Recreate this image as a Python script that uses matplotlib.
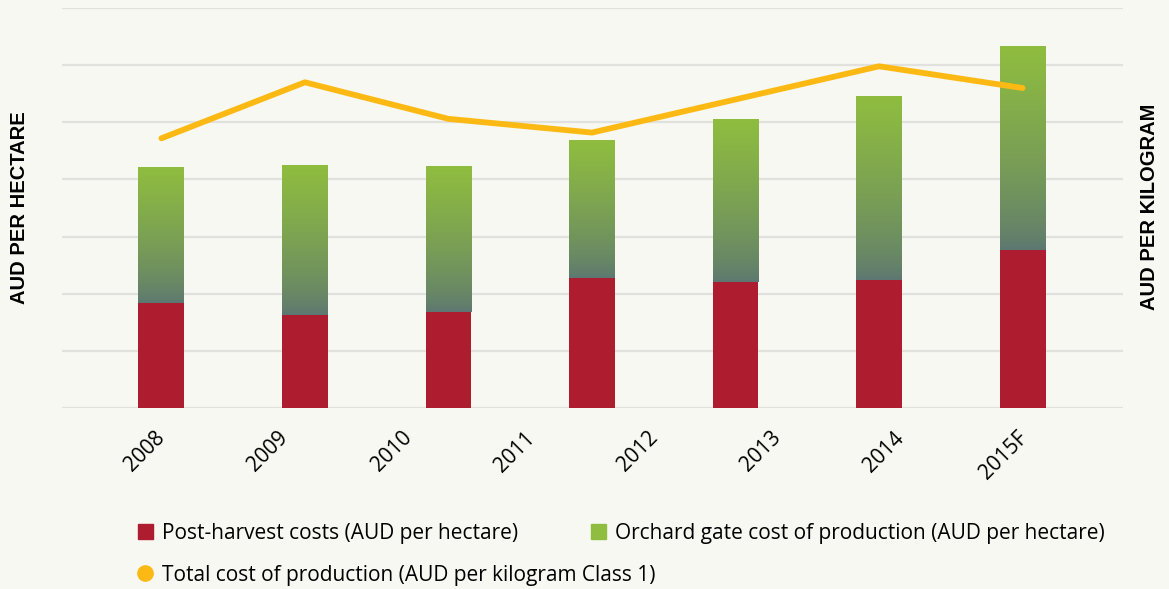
import numpy as np
import matplotlib
matplotlib.use('Agg')
import matplotlib.pyplot as plt
from matplotlib.colors import LinearSegmentedColormap
from matplotlib.patches import Patch
from matplotlib.lines import Line2D

# Datos (escala del eje izquierdo estimada: 5000 por línea de rejilla)
years = ['2008', '2009', '2010', '2011', '2012', '2013', '2014', '2015F']
post_harvest = [9190, 8140, 8400, 11380, 11030, 11200, 13830]
orchard_gate = [11900, 13040, 12690, 12070, 14260, 16100, 17850]
total_per_kg = [2.36, 2.85, 2.53, 2.41, 2.70, 2.99, 2.80]

COLORS = {
    'bg': '#F7F8F1',
    'red': '#AE1C30',
    'green_top': '#8FBD3F',
    'green_bottom': '#5C7672',
    'yellow': '#FDB913',
    'grid': '#E1E1DE',
}

plt.rcParams['font.family'] = ['Open Sans', 'DejaVu Sans']

fig = plt.figure(figsize=(11.69, 5.89), dpi=100, facecolor=COLORS['bg'])
ax = fig.add_axes([0.053, 0.3073, 0.9077, 0.6791])
ax.set_facecolor(COLORS['bg'])

x = np.arange(len(post_harvest))
width = 0.32

ax.bar(x, post_harvest, width, color=COLORS['red'], zorder=2)
green_bars = ax.bar(x, orchard_gate, width, bottom=post_harvest,
                    color='none', zorder=2)

# degradado verde -> gris azulado en la parte superior de cada barra
cmap = LinearSegmentedColormap.from_list(
    'orchard', [COLORS['green_bottom'], COLORS['green_top']])
grad = np.linspace(0, 1, 256) ** 0.7
grad = grad[::-1].reshape(-1, 1)
for p in green_bars.patches:
    x0, y0 = p.get_x(), p.get_y()
    ax.imshow(grad, extent=[x0, x0 + p.get_width(), y0, y0 + p.get_height()],
              aspect='auto', cmap=cmap, zorder=2, interpolation='bicubic')

ax.set_xlim(-0.693, 6.70)
ax.set_ylim(0, 35000)
ax.set_yticks(np.arange(0, 35001, 5000))
ax.yaxis.grid(True, color=COLORS['grid'], linewidth=1.6, zorder=0)
ax.set_axisbelow(True)
ax.tick_params(axis='y', length=0, labelleft=False)
for s in ax.spines.values():
    s.set_visible(False)

ax.set_xticks(np.linspace(0.055, 6.065, len(years)))
ax.set_xticklabels(years, rotation=45, ha='right', fontsize=15)
ax.tick_params(axis='x', length=0, pad=14)

ax2 = ax.twinx()
ax2.plot(x, total_per_kg, color=COLORS['yellow'], linewidth=4.2,
         solid_capstyle='round', solid_joinstyle='round', zorder=3)
ax2.set_ylim(0, 3.5)
ax2.set_yticks([])
for s in ax2.spines.values():
    s.set_visible(False)

fig.text(0.0165, 1 - 208 / 589, 'AUD PER HECTARE', rotation=90, ha='center',
         va='center', fontsize=14.5, fontweight='bold', family='Liberation Sans')
fig.text(0.9835, 1 - 207 / 589, 'AUD PER KILOGRAM', rotation=90, ha='center',
         va='center', fontsize=14.5, fontweight='bold', family='Liberation Sans')

h1 = [Patch(color=COLORS['red']), Patch(color=COLORS['green_top'])]
fig.legend(h1, ['Post-harvest costs (AUD per hectare)',
                'Orchard gate cost of production (AUD per hectare)'],
           loc='center left', bbox_to_anchor=(0.118, 1 - 533 / 589),
           ncol=2, frameon=False, fontsize=15, handlelength=0.7,
           handleheight=0.7, handletextpad=0.45, columnspacing=3.5,
           borderaxespad=0, borderpad=0)
h2 = [Line2D([], [], marker='o', linestyle='none', markersize=11,
             color=COLORS['yellow'])]
fig.legend(h2, ['Total cost of production (AUD per kilogram Class 1)'],
           loc='center left', bbox_to_anchor=(0.118, 1 - 575 / 589),
           frameon=False, fontsize=15, handlelength=0.7, handletextpad=0.45,
           borderaxespad=0, borderpad=0)

fig.savefig('out.png', dpi=100, facecolor=COLORS['bg'])
